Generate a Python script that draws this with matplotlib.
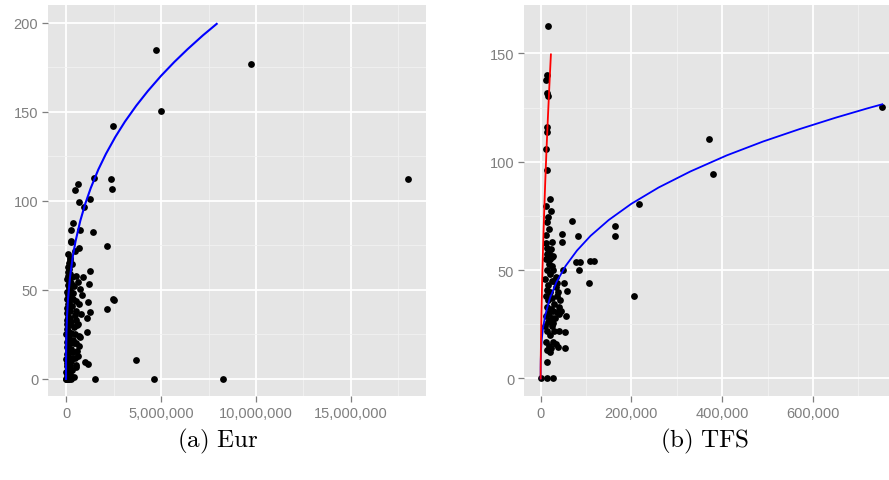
import matplotlib
matplotlib.use("Agg")
import matplotlib.pyplot as plt
from matplotlib.ticker import FixedLocator, FuncFormatter

BG, GRID_MAJ, GRID_MIN, TXT = "#e5e5e5", "#ffffff", "#f2f2f2", "#7f7f7f"

# ---- panel (a) Eur: x in millions, y raw ----
eur_x = [4.75, 9.75, 4.98, 2.49, 18.02, 1.49, 2.35, 2.41, 0.62, 0.46, 1.25, 0.67,
         0.93, 0.37, 0.25, 0.75, 1.41, 0.26, 2.17, 0.68, 0.47, 0.28, 0.30, 1.26,
         0.51, 0.91, 0.65, 1.21, 2.49, 2.53, 1.17, 2.17, 1.26, 1.09, 1.09, 0.67,
         1.00, 1.17, 3.67, 1.53, 4.63, 8.28, 0.21,
         0.74, 0.84, 0.68, 0.79, 0.63, 0.74, 0.58, 0.53, 0.42,
         0.00, 0.02, 0.05, 0.10, 0.18, 0.25, 0.03, 0.12, 0.06, 0.20, 0.01, 0.09,
         0.15, 0.04, 0.22, 0.07, 0.13, 0.02, 0.30, 0.10, 0.05, 0.17, 0.08, 0.26,
         0.03, 0.12, 0.20, 0.06, 0.35, 0.09, 0.15, 0.02, 0.24, 0.11, 0.05, 0.40,
         0.14, 0.07, 0.28, 0.03, 0.19, 0.10, 0.45, 0.06, 0.22, 0.13, 0.04, 0.32,
         0.09, 0.17, 0.50, 0.07, 0.25, 0.12, 0.38, 0.05, 0.20, 0.15, 0.42, 0.09,
         0.28, 0.18, 0.06, 0.33, 0.12, 0.22, 0.08, 0.16, 0.10, 0.14, 0.20, 0.12,
         0.30, 0.35, 0.45, 0.55, 0.35, 0.55, 0.40, 0.28, 0.48,
         0.60, 0.70, 0.55, 0.62, 0.50]
eur_y = [185.0, 177.1, 150.2, 142.3, 112.2, 113.1, 112.2, 106.9, 109.4, 106.3, 101.3, 99.3,
         96.8, 87.5, 83.9, 83.5, 82.4, 77.7, 74.9, 73.8, 72.1, 76.8, 64.6, 60.8,
         58.0, 57.1, 54.3, 53.4, 44.9, 44.2, 43.1, 39.2, 37.6, 34.3, 26.2, 18.7,
         9.4, 8.3, 10.5, 0.0, 0.0, 0.0, 68.1,
         50.6, 47.2, 42.1, 36.5, 30.9, 23.6, 15.7, 6.7, 1.1,
         0, 0, 0, 0, 0, 0, 1, 2, 3, 3, 4, 5,
         6, 7, 8, 9, 10, 11, 12, 13, 14, 15, 16, 17,
         18, 19, 20, 21, 22, 23, 24, 25, 26, 27, 28, 29,
         30, 31, 32, 33, 34, 35, 36, 37, 38, 39, 40, 41,
         42, 43, 44, 45, 46, 47, 48, 49, 50, 51, 52, 53,
         54, 55, 56, 57, 58, 59, 60, 62, 63, 65, 67, 70,
         5, 15, 25, 33, 45, 38, 20, 10, 12,
         30, 24, 20, 13, 8]
eur_fit_x = [0, 0.001, 0.005, 0.02, 0.05, 0.1, 0.2, 0.35, 0.5, 0.75, 1.0, 1.3,
             1.7, 2.1, 2.6, 3.1, 3.7, 4.3, 5.0, 5.7, 6.4, 7.2, 7.93]
eur_fit_y = [0, 9.2, 15.9, 25.6, 35.1, 44.5, 56.4, 68.4, 77.3, 88.8, 98.0, 107.2,
             117.6, 126.4, 136.0, 144.5, 153.5, 161.6, 170.2, 178.0, 185.2, 192.9, 199.4]

# ---- panel (b) TFS: x in thousands ----
tfs_x = [15.3, 13.1, 11.6, 14.5, 16.0, 13.1, 14.5, 11.0, 13.1, 21.5,
         11.0, 22.0, 16.7, 14.5, 68.8, 163.0, 164.8, 47.5, 47.5, 82.0,
         11.6, 22.6, 27.7, 13.1, 79.0, 86.4, 84.8, 108.0, 117.0, 49.7,
         105.5, 51.2, 58.5, 205.7, 35.2, 29.2, 36.5, 40.5, 55.6, 27.7,
         20.4, 40.9, 52.8, 27.7, 53.4, 38.7, 20.4, 13.1, 0.0, 13.1,
         27.7, 216.7, 370.6, 380.9, 753.0,
         12, 18, 25, 15, 20, 10, 24, 17, 13, 21, 11, 26, 16, 14, 22, 18,
         12, 24, 16, 10, 14, 20, 12, 18, 15, 30, 33, 28, 26, 19, 15, 24,
         12, 18, 28, 31, 24, 30, 33, 23, 17, 20, 40, 42, 38, 36, 34, 44]
tfs_y = [162.5, 140.2, 137.6, 131.5, 130.5, 116.2, 113.6, 105.7, 96.3, 82.8,
         79.4, 77.1, 74.6, 72.3, 72.5, 70.5, 65.6, 66.6, 62.8, 65.6,
         62.5, 59.7, 56.6, 57.4, 53.6, 53.6, 50.1, 54.3, 54.3, 50.1,
         43.9, 43.9, 40.5, 37.9, 38.1, 34.3, 30.5, 29.8, 28.6, 25.8,
         27.0, 22.0, 21.5, 16.6, 14.0, 14.3, 12.0, 7.8, 0.0, 0.0,
         0.0, 80.6, 110.3, 94.5, 125.4,
         55, 53, 52, 50, 48, 46, 45, 43, 41, 40, 38, 37, 36, 33, 32, 30,
         29, 28, 26, 24, 22, 20, 17, 15, 13, 45, 42, 50, 56, 58, 60, 63,
         66, 69, 31, 28, 24, 22, 16, 14, 58, 55, 33, 36, 40, 44, 47, 31]
tfs_fit_x = [0, 0.05, 0.3, 1, 2.5, 5, 10, 20, 35, 55, 80, 110, 150, 200, 260,
             330, 410, 490, 570, 650, 720, 753]
tfs_fit_y = [0, 4.8, 8.8, 13.3, 18.2, 23.0, 29.1, 36.8, 44.5, 51.9, 59.0, 65.8,
             73.1, 80.6, 88.1, 95.5, 102.9, 109.3, 115.0, 120.3, 124.6, 126.5]
tfs_red_x = [0, 0.1, 0.3, 0.9, 1.73, 3.31, 5.24, 7.5, 10.0, 12.8, 15.9, 19.2, 22.6]
tfs_red_y = [0, 5, 10, 20, 30, 45, 60, 75, 90, 105, 120, 135, 149.5]

plt.rcParams.update({"font.family": ["Liberation Sans", "DejaVu Sans"],
                     "mathtext.fontset": "cm"})

fig = plt.figure(figsize=(8.89, 4.81), dpi=100)
ax1 = fig.add_axes([48 / 889, 1 - 397 / 481, 378 / 889, 391 / 481])
ax2 = fig.add_axes([524 / 889, 1 - 397 / 481, 366 / 889, 391 / 481])


def style(ax, xmaj, xmin, ymaj, ymin):
    ax.set_facecolor(BG)
    for s in ax.spines.values():
        s.set_visible(False)
    ax.xaxis.set_major_locator(FixedLocator(xmaj))
    ax.xaxis.set_minor_locator(FixedLocator(xmin))
    ax.yaxis.set_major_locator(FixedLocator(ymaj))
    ax.yaxis.set_minor_locator(FixedLocator(ymin))
    ax.grid(True, which="major", color=GRID_MAJ, lw=1.3, zorder=0)
    ax.grid(True, which="minor", color=GRID_MIN, lw=0.6, zorder=0)
    ax.set_axisbelow(True)
    ax.tick_params(which="major", length=4, width=0.9, color=TXT,
                   labelcolor=TXT, labelsize=10.5, pad=3)
    ax.tick_params(which="minor", length=0)
    ax.xaxis.set_major_formatter(FuncFormatter(lambda v, p: f"{v:,.0f}"))


ax1.scatter([v * 1e6 for v in eur_x], eur_y, s=24, color="black", lw=0, zorder=3)
ax1.plot([v * 1e6 for v in eur_fit_x], eur_fit_y, color="blue", lw=1.5, zorder=4)
ax1.set_xlim(-0.95e6, 18.95e6)
ax1.set_ylim(-9.6, 210)
style(ax1, [0, 5e6, 10e6, 15e6], [-2.5e6, 2.5e6, 7.5e6, 12.5e6, 17.5e6],
      [0, 50, 100, 150, 200], [25, 75, 125, 175])

ax2.scatter([v * 1e3 for v in tfs_x], tfs_y, s=24, color="black", lw=0, zorder=3)
ax2.plot([v * 1e3 for v in tfs_fit_x], tfs_fit_y, color="blue", lw=1.3, zorder=4)
ax2.plot([v * 1e3 for v in tfs_red_x], tfs_red_y, color="red", lw=1.3, zorder=4)
ax2.set_xlim(-36.7e3, 770e3)
ax2.set_ylim(-8.1, 172.3)
style(ax2, [0, 200e3, 400e3, 600e3], [100e3, 300e3, 500e3, 700e3],
      [0, 50, 100, 150], [25, 75, 125])

fig.text(218 / 889, 1 - 441 / 481, r"$\mathrm{(a)\ Eur}$", ha="center",
         va="center", fontsize=18, color="black")
fig.text(705 / 889, 1 - 441 / 481, r"$\mathrm{(b)\ TFS}$", ha="center",
         va="center", fontsize=18, color="black")

fig.savefig("out.png", dpi=100)
